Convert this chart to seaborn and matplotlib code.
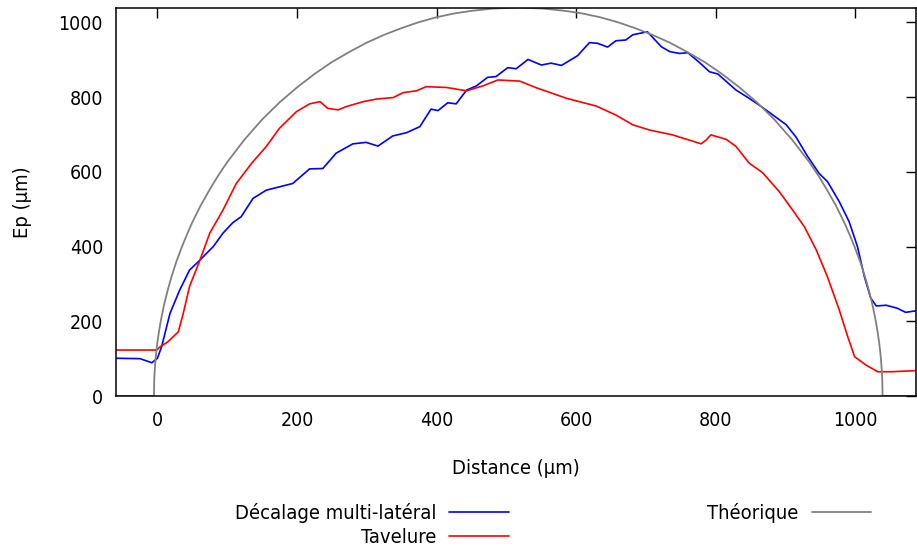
import matplotlib
matplotlib.use("Agg")
import matplotlib.pyplot as plt
import seaborn as sns
import pandas as pd

# Décalage multi-latéral (blue)
blue_x = [-60, -25, -8, 0, 6, 18, 32, 46, 61, 80, 94, 108, 120, 137, 156, 175, 194,
          218, 237, 256, 280, 299, 316, 337, 357, 376, 392, 402, 416, 428, 443, 457,
          473, 485, 502, 514, 531, 550, 564, 579, 602, 619, 631, 645, 657, 671, 681,
          702, 722, 734, 748, 760, 777, 791, 803, 829, 846, 862, 882, 901, 915, 931,
          948, 960, 977, 991, 1003, 1013, 1022, 1030, 1044, 1060, 1072, 1087]
blue_y = [101, 100, 89, 101, 132, 221, 284, 337, 364, 400, 436, 464, 480, 529, 551, 560, 569,
          608, 609, 650, 675, 679, 669, 696, 705, 721, 768, 764, 785, 782, 819, 830,
          853, 855, 879, 876, 901, 886, 891, 885, 911, 946, 944, 934, 951, 953, 967,
          975, 935, 922, 917, 919, 892, 868, 862, 819, 799, 779, 752, 726, 693, 643,
          596, 574, 520, 467, 400, 319, 262, 241, 243, 235, 224, 228]

# Tavelure (red)
red_x = [-60, -30, -1, 4, 15, 30, 37, 46, 61, 75, 94, 113, 135, 156, 175, 199, 218,
         233, 244, 259, 271, 295, 314, 338, 352, 371, 385, 414, 443, 466, 488, 519,
         543, 586, 629, 657, 681, 705, 738, 762, 779, 786, 793, 815, 829, 848, 867,
         891, 910, 927, 944, 960, 977, 989, 999, 1015, 1032, 1052, 1087]
red_y = [123, 123, 123, 132, 145, 172, 221, 293, 364, 436, 498, 569, 623, 668, 717, 761, 782,
         788, 770, 766, 775, 788, 795, 799, 812, 817, 828, 826, 817, 830, 846, 843,
         825, 797, 776, 752, 726, 712, 699, 685, 675, 685, 699, 687, 668, 623, 598,
         547, 498, 453, 391, 319, 230, 159, 105, 83, 65, 65, 68]

# Théorique (gray)
theo_x = [-60, -5, -4.5, -4, -3, -2, -1, 0, 2, 5, 7.5, 10, 15, 20, 27, 35, 42, 50, 62, 75,
          87, 100, 125, 150, 175, 200, 225, 250, 275, 300, 325, 350, 375, 400, 425, 450,
          480, 517, 554, 584, 609, 634, 659, 684, 709, 734, 759, 784, 809, 834, 859, 884,
          909, 934, 947, 959, 972, 984, 992, 999, 1007, 1014, 1019, 1024, 1026.5, 1029,
          1032, 1034, 1035, 1036, 1037, 1038, 1038.5, 1039, 1087]
theo_y = [0, 0, 46, 64, 91, 111, 129, 144, 170, 203, 226, 248, 285, 318, 359, 399, 431, 465,
          510, 553, 590, 626, 687, 740, 786, 826, 862, 894, 921, 946, 967, 985, 1001, 1014,
          1024, 1031, 1037, 1040, 1037, 1031, 1024, 1014, 1001, 985, 967, 946, 921, 894,
          862, 826, 786, 740, 687, 626, 590, 553, 510, 465, 431, 399, 359, 318, 285, 248,
          226, 203, 170, 144, 129, 111, 91, 64, 46, 0, 0]

x_ticks = [0, 200, 400, 600, 800, 1000]
y_ticks = [0, 200, 400, 600, 800, 1000]

sns.set_theme(style="white")
plt.rcParams["font.family"] = ["DejaVu Sans"]
plt.rcParams["font.stretch"] = "condensed"
plt.rcParams["font.size"] = 14
plt.rcParams["text.color"] = "black"
plt.rcParams["axes.labelcolor"] = "black"

fig = plt.figure(figsize=(9.17, 5.5), dpi=100)
ax = fig.add_axes([0.126, 0.28, 0.873, 0.705])

df_blue = pd.DataFrame({"x": blue_x, "y": blue_y})
df_red = pd.DataFrame({"x": red_x, "y": red_y})
df_theo = pd.DataFrame({"x": theo_x, "y": theo_y})

sns.lineplot(data=df_blue, x="x", y="y", sort=False, estimator=None, color="#0000ff",
             linewidth=1.2, ax=ax, label="Décalage multi-latéral")
sns.lineplot(data=df_red, x="x", y="y", sort=False, estimator=None, color="#ff0000",
             linewidth=1.2, ax=ax, label="Tavelure")
sns.lineplot(data=df_theo, x="x", y="y", sort=False, estimator=None, color="#808080",
             linewidth=1.3, ax=ax, label="Théorique")

ax.set_xlim(-60, 1087)
ax.set_ylim(0, 1038)
ax.set_xticks(x_ticks)
ax.set_yticks(y_ticks)
ax.tick_params(direction="in", length=7.5, width=1, top=True, right=True,
               labelsize=14, colors="black")
ax.tick_params(axis="x", pad=11)
ax.tick_params(axis="y", pad=9)
for s in ax.spines.values():
    s.set_color("black")
    s.set_linewidth(1.1)

ax.set_xlabel("Distance (µm)", fontsize=14.5, labelpad=21)
ax.set_ylabel("Ep (µm)", fontsize=14.5, labelpad=19)

ax.legend(loc="upper left", bbox_to_anchor=(0.256, 0.085), bbox_transform=fig.transFigure,
          ncol=2, frameon=False, markerfirst=False, fontsize=14.5, handlelength=2.95,
          handletextpad=0.65, columnspacing=9.85, labelspacing=0.25, borderpad=0,
          borderaxespad=0)

fig.savefig("out.png", dpi=100)
